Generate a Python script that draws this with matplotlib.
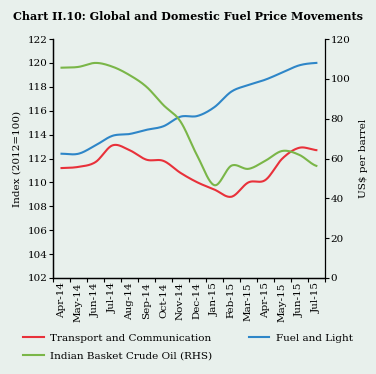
import numpy as np
import matplotlib
matplotlib.use("Agg")
import matplotlib.pyplot as plt

months = ["Apr-14", "May-14", "Jun-14", "Jul-14", "Aug-14", "Sep-14", "Oct-14",
          "Nov-14", "Dec-14", "Jan-15", "Feb-15", "Mar-15", "Apr-15", "May-15",
          "Jun-15", "Jul-15"]
transport = [111.2, 111.3, 111.7, 113.1, 112.7, 111.9, 111.8, 110.8, 110.0,
             109.4, 108.8, 110.0, 110.2, 112.0, 112.9, 112.7]
fuel = [112.4, 112.4, 113.1, 113.9, 114.05, 114.4, 114.7, 115.5, 115.56,
        116.3, 117.6, 118.15, 118.6, 119.2, 119.8, 120.0]
crude = [105.6, 106.0, 108.0, 106.1, 101.9, 96.0, 86.8, 78.6, 61.2, 46.6,
         56.4, 54.8, 58.9, 63.8, 61.8, 56.3]

BG = "#e8f0ec"
RED = "#e8313a"
BLUE = "#2e86c8"
GREEN = "#7ab648"


def smooth(y, n=20):
    # catmull-rom style curve through the monthly points
    y = np.asarray(y, dtype=float)
    p = np.concatenate([[y[0]], y, [y[-1]]])
    xs, ys = [], []
    for i in range(len(y) - 1):
        p0, p1, p2, p3 = p[i], p[i + 1], p[i + 2], p[i + 3]
        t = np.linspace(0, 1, n, endpoint=False)
        v = 0.5 * ((2 * p1) + (-p0 + p2) * t + (2 * p0 - 5 * p1 + 4 * p2 - p3) * t ** 2
                   + (-p0 + 3 * p1 - 3 * p2 + p3) * t ** 3)
        xs.append(i + t)
        ys.append(v)
    xs.append([len(y) - 1])
    ys.append([y[-1]])
    return np.concatenate(xs), np.concatenate(ys)


plt.rcParams["font.family"] = ["DejaVu Serif"]

fig = plt.figure(figsize=(3.76, 3.74), dpi=100, facecolor=BG)
ax = fig.add_axes([0.141, 0.2567, 0.723, 0.639])
ax.set_facecolor(BG)
ax2 = ax.twinx()

xt, yt = smooth(transport)
l1, = ax.plot(xt, yt, color=RED, lw=1.5, label="Transport and Communication")
xf, yf = smooth(fuel)
l2, = ax.plot(xf, yf, color=BLUE, lw=1.5, label="Fuel and Light")
xc, yc = smooth(crude)
l3, = ax2.plot(xc, yc, color=GREEN, lw=1.5, label="Indian Basket Crude Oil (RHS)")

ax.set_xlim(-0.5, len(months) - 0.5)
ax.set_ylim(102, 122)
ax.set_yticks(np.arange(102, 123, 2))
ax2.set_ylim(0, 120)
ax2.set_yticks(np.arange(0, 121, 20))

ax.set_xticks(np.arange(len(months)))
ax.set_xticklabels(months, rotation=90, fontsize=7.5)
ax.set_xticks(np.arange(len(months) + 1) - 0.5, minor=True)
ax.tick_params(axis="x", which="major", length=0, pad=3)
ax.tick_params(axis="x", which="minor", length=3, width=0.8)
ax.tick_params(axis="y", labelsize=7.5, length=3, width=0.8, pad=1)
ax2.tick_params(axis="y", labelsize=7.5, length=3, width=0.8, pad=1)

for a in (ax, ax2):
    a.spines["top"].set_visible(False)
    for s in ("left", "right", "bottom"):
        a.spines[s].set_linewidth(0.9)
ax.spines["right"].set_visible(False)

ax.set_ylabel("Index (2012=100)", fontsize=7.5, labelpad=4)
ax2.set_ylabel("US$ per barrel", fontsize=7.5, labelpad=6)

fig.text(0.5, 0.955, "Chart II.10: Global and Domestic Fuel Price Movements",
         ha="center", va="center", fontsize=8.05, fontweight="bold")

fig.legend(handles=[l1, l3, l2], loc="upper left", bbox_to_anchor=(0.05, 0.12),
           ncol=2, frameon=False, fontsize=7.5, handlelength=2.0,
           columnspacing=3.5, handletextpad=0.6, labelspacing=0.85,
           borderaxespad=0)

plt.savefig("out.png", dpi=100, facecolor=BG)
